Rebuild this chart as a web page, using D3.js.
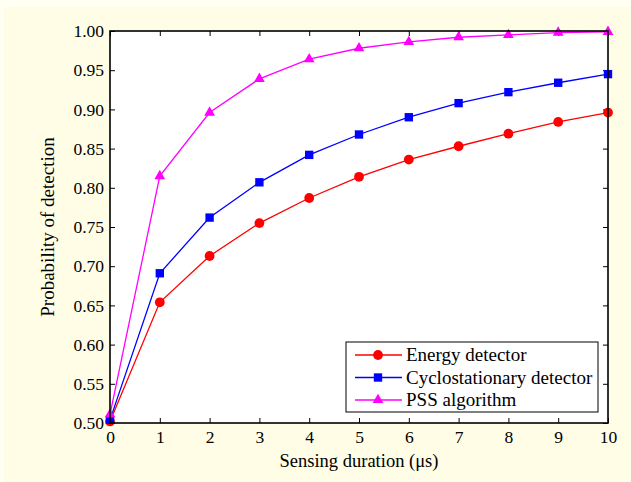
<!DOCTYPE html>
<html><head><meta charset="utf-8">
<script src="https://cdn.jsdelivr.net/npm/d3@7"></script>
<style>html,body{margin:0;padding:0;background:#fffde6;}svg{display:block;}</style>
</head><body>
<svg id="c" width="631" height="482"></svg>
<script>
const xValues = [0,1,2,3,4,5,6,7,8,9,10];
const energy = [0.502,0.654,0.713,0.755,0.787,0.814,0.836,0.853,0.869,0.884,0.896];
const cyclo  = [0.504,0.691,0.762,0.807,0.842,0.868,0.890,0.908,0.922,0.934,0.945];
const pss    = [0.511,0.815,0.896,0.939,0.964,0.978,0.986,0.992,0.995,0.998,0.999];
const yTicks = [0.50,0.55,0.60,0.65,0.70,0.75,0.80,0.85,0.90,0.95,1.00];
const seriesNames = ["Energy detector","Cyclostationary detector","PSS algorithm"];
const seriesColors = ["#ff0000","#0000ff","#ff00ff"];
const seriesMarkers = ["circle","square","triangle"];
const series = [energy, cyclo, pss];

const svg = d3.select("#c");
const L=110, R=608, T=31, B=423;
const font = "'Liberation Serif','Times New Roman',serif";
svg.append("rect").attr("width",631).attr("height",482).attr("fill","#fffde6");
svg.append("rect").attr("width",631).attr("height",7).attr("fill","#fffff2");
svg.append("rect").attr("width",4).attr("height",482).attr("fill","#fffff2");
svg.append("rect").attr("x",L).attr("y",T).attr("width",R-L).attr("height",B-T).attr("fill","#fff");

const x = d3.scaleLinear().domain([0,10]).range([L,R]);
const y = d3.scaleLinear().domain([0.5,1.0]).range([B,T]);

function styleAxis(g){
  g.select(".domain").remove();
  g.selectAll("line").attr("stroke","#000").attr("stroke-width",1);
  g.selectAll("text").attr("font-family",font).attr("font-size",17.5).attr("fill","#000");
}
svg.append("g").attr("transform",`translate(0,${B})`)
  .call(d3.axisBottom(x).tickValues(xValues).tickSizeInner(-5).tickPadding(8).tickFormat(d3.format("d")))
  .call(styleAxis);
svg.append("g").attr("transform",`translate(0,${T})`)
  .call(d3.axisTop(x).tickValues(xValues).tickSizeInner(-5).tickFormat(""))
  .call(styleAxis);
svg.append("g").attr("transform",`translate(${L},0)`)
  .call(d3.axisLeft(y).tickValues(yTicks).tickSizeInner(-5).tickPadding(6).tickFormat(d3.format(".2f")))
  .call(styleAxis);
svg.append("g").attr("transform",`translate(${R},0)`)
  .call(d3.axisRight(y).tickValues(yTicks).tickSizeInner(-5).tickFormat(""))
  .call(styleAxis);

const line = d3.line().x((d,i)=>x(xValues[i])).y(d=>y(d));
const sym = {circle:d3.symbolCircle, square:d3.symbolSquare, triangle:d3.symbolTriangle};
const symSize = {circle:75, square:70, triangle:50};

series.forEach((s,k)=>{
  svg.append("path").datum(s).attr("d",line).attr("fill","none")
    .attr("stroke",seriesColors[k]).attr("stroke-width",1.3);
});
series.forEach((s,k)=>{
  svg.append("g").selectAll("path").data(s).join("path")
    .attr("transform",(d,i)=>`translate(${x(xValues[i])},${y(d)})`)
    .attr("d",d3.symbol().type(sym[seriesMarkers[k]]).size(symSize[seriesMarkers[k]]))
    .attr("fill",seriesColors[k]);
});

svg.append("rect").attr("x",L).attr("y",T).attr("width",R-L).attr("height",B-T)
  .attr("fill","none").attr("stroke","#000").attr("stroke-width",1.6);

// legend
const lg = svg.append("g");
lg.append("rect").attr("x",346).attr("y",342).attr("width",252).attr("height",70)
  .attr("fill","#fff").attr("stroke","#000").attr("stroke-width",1);
seriesNames.forEach((n,k)=>{
  const yy = 355 + k*22.5;
  lg.append("line").attr("x1",355).attr("x2",402).attr("y1",yy).attr("y2",yy)
    .attr("stroke",seriesColors[k]).attr("stroke-width",1.3);
  lg.append("path").attr("transform",`translate(378,${yy})`)
    .attr("d",d3.symbol().type(sym[seriesMarkers[k]]).size(symSize[seriesMarkers[k]]))
    .attr("fill",seriesColors[k]);
  lg.append("text").attr("x",406).attr("y",yy+6).text(n)
    .attr("font-family",font).attr("font-size",19).attr("fill","#000");
});

svg.append("text").attr("x",(L+R)/2).attr("y",467).attr("text-anchor","middle")
  .attr("font-family",font).attr("font-size",18.5).text("Sensing duration (μs)");
svg.append("text").attr("transform",`translate(54,${(T+B)/2}) rotate(-90)`).attr("text-anchor","middle")
  .attr("font-family",font).attr("font-size",19).text("Probability of detection");
</script>
</body></html>
